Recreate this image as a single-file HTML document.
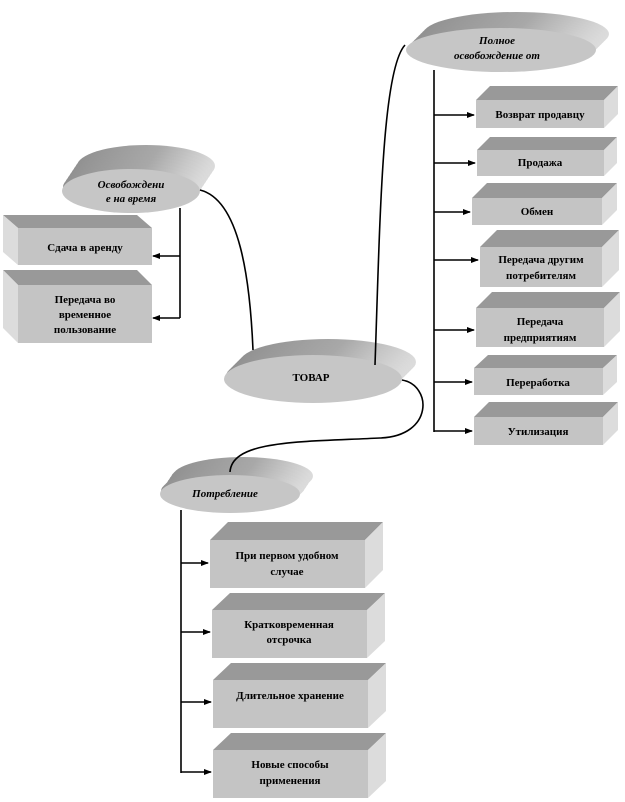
<!DOCTYPE html>
<html><head><meta charset="utf-8"><style>
body{margin:0;background:#fff}
svg{display:block}
text{font-family:"Liberation Serif",serif;font-weight:bold;font-size:11px;fill:#000;text-anchor:middle}
.i{font-style:italic}
</style></head><body>
<svg width="625" height="802" viewBox="0 0 625 802" xmlns="http://www.w3.org/2000/svg">
<defs>
<linearGradient id="rim" x1="0" y1="0" x2="1" y2="0"><stop offset="0" stop-color="#909090"/><stop offset="0.6" stop-color="#a8a8a8"/><stop offset="1" stop-color="#dcdcdc"/></linearGradient>
<marker id="a" markerWidth="8" markerHeight="8" refX="7" refY="4" orient="auto" markerUnits="userSpaceOnUse"><path d="M0,1 L8,4 L0,7 z" fill="#000"/></marker>
</defs>

<g fill="url(#rim)">
<ellipse cx="516" cy="34" rx="93" ry="22"/><ellipse cx="514" cy="36" rx="93" ry="22"/><ellipse cx="512" cy="38" rx="93" ry="22"/><ellipse cx="510" cy="40" rx="93" ry="22"/><ellipse cx="508" cy="42" rx="93" ry="22"/><ellipse cx="506" cy="44" rx="93" ry="22"/><ellipse cx="504" cy="46" rx="93" ry="22"/><ellipse cx="502" cy="48" rx="93" ry="22"/>
<ellipse cx="146" cy="166" rx="69" ry="21"/><ellipse cx="144" cy="169" rx="69" ry="21"/><ellipse cx="142" cy="172" rx="69" ry="21"/><ellipse cx="140" cy="175" rx="69" ry="21"/><ellipse cx="138" cy="178" rx="69" ry="21"/><ellipse cx="136" cy="181" rx="69" ry="21"/><ellipse cx="134" cy="184" rx="69" ry="21"/><ellipse cx="132" cy="187" rx="69" ry="21"/>
<ellipse cx="328" cy="362" rx="88" ry="23"/><ellipse cx="326" cy="364" rx="88" ry="23"/><ellipse cx="324" cy="366" rx="88" ry="23"/><ellipse cx="322" cy="368" rx="88" ry="23"/><ellipse cx="320" cy="370" rx="88" ry="23"/><ellipse cx="318" cy="372" rx="88" ry="23"/><ellipse cx="316" cy="374" rx="88" ry="23"/><ellipse cx="314" cy="376" rx="88" ry="23"/>
<ellipse cx="243" cy="476" rx="70" ry="19"/><ellipse cx="241" cy="478" rx="70" ry="19"/><ellipse cx="239" cy="481" rx="70" ry="19"/><ellipse cx="237" cy="484" rx="70" ry="19"/><ellipse cx="235" cy="487" rx="70" ry="19"/><ellipse cx="233" cy="489" rx="70" ry="19"/><ellipse cx="231" cy="491" rx="70" ry="19"/>
</g>
<g fill="#c6c6c6">
<ellipse cx="501" cy="50" rx="95" ry="22"/>
<ellipse cx="131" cy="191" rx="69" ry="22"/>
<ellipse cx="313" cy="379" rx="89" ry="24"/>
<ellipse cx="230" cy="494" rx="70" ry="19"/>
</g>
<text class="i" x="497" y="44">Полное</text>
<text class="i" x="497" y="59">освобождение от</text>
<text class="i" x="131" y="188">Освобождени</text>
<text class="i" x="131" y="202">е на время</text>
<text x="311" y="381">ТОВАР</text>
<text class="i" x="225" y="497">Потребление</text>

<g fill="none" stroke="#000" stroke-width="1.6">
<path d="M375 365 C 380 220, 382 70, 405 45"/>
<path d="M200 190 C 240 200, 250 280, 253 350"/>
<path d="M402 380 C 432 385, 434 436, 380 438 C 300 442, 232 440, 230 472"/>
<line x1="434" y1="70" x2="434" y2="432"/>
<line x1="180" y1="208" x2="180" y2="318"/>
<line x1="181" y1="510" x2="181" y2="773"/>
<g marker-end="url(#a)">
<line x1="434" y1="115" x2="474" y2="115"/>
<line x1="434" y1="163" x2="475" y2="163"/>
<line x1="434" y1="212" x2="470" y2="212"/>
<line x1="434" y1="260" x2="478" y2="260"/>
<line x1="434" y1="330" x2="474" y2="330"/>
<line x1="434" y1="382" x2="472" y2="382"/>
<line x1="434" y1="431" x2="472" y2="431"/>
<line x1="180" y1="256" x2="153" y2="256"/>
<line x1="180" y1="318" x2="153" y2="318"/>
<line x1="181" y1="563" x2="208" y2="563"/>
<line x1="181" y1="632" x2="210" y2="632"/>
<line x1="181" y1="702" x2="211" y2="702"/>
<line x1="181" y1="772" x2="211" y2="772"/>
</g>
</g>

<g>
<polygon points="476,100 490,86 618,86 604,100" fill="#999"/><polygon points="604,100 618,86 618,114 604,128" fill="#dcdcdc"/><rect x="476" y="100" width="128" height="28" fill="#c4c4c4"/>
<text x="540" y="118">Возврат продавцу</text>

<polygon points="477,150 490,137 617,137 604,150" fill="#999"/><polygon points="604,150 617,137 617,163 604,176" fill="#dcdcdc"/><rect x="477" y="150" width="127" height="26" fill="#c4c4c4"/>
<text x="540" y="166">Продажа</text>

<polygon points="472,198 487,183 617,183 602,198" fill="#999"/><polygon points="602,198 617,183 617,210 602,225" fill="#dcdcdc"/><rect x="472" y="198" width="130" height="27" fill="#c4c4c4"/>
<text x="537" y="215">Обмен</text>

<polygon points="480,247 497,230 619,230 602,247" fill="#999"/><polygon points="602,247 619,230 619,270 602,287" fill="#dcdcdc"/><rect x="480" y="247" width="122" height="40" fill="#c4c4c4"/>
<text x="541" y="263">Передача другим</text>
<text x="541" y="279">потребителям</text>

<polygon points="476,308 492,292 620,292 604,308" fill="#999"/><polygon points="604,308 620,292 620,331 604,347" fill="#dcdcdc"/><rect x="476" y="308" width="128" height="39" fill="#c4c4c4"/>
<text x="540" y="325">Передача</text>
<text x="540" y="341">предприятиям</text>

<polygon points="474,368 488,355 617,355 603,368" fill="#999"/><polygon points="603,368 617,355 617,382 603,395" fill="#dcdcdc"/><rect x="474" y="368" width="129" height="27" fill="#c4c4c4"/>
<text x="538" y="386">Переработка</text>

<polygon points="474,417 489,402 618,402 603,417" fill="#999"/><polygon points="603,417 618,402 618,430 603,445" fill="#dcdcdc"/><rect x="474" y="417" width="129" height="28" fill="#c4c4c4"/>
<text x="538" y="435">Утилизация</text>
</g>

<g>
<polygon points="3,215 137,215 152,228 18,228" fill="#999"/><polygon points="3,215 18,228 18,265 3,252" fill="#dcdcdc"/><rect x="18" y="228" width="134" height="37" fill="#c4c4c4"/>
<text x="85" y="251">Сдача в аренду</text>

<polygon points="3,270 137,270 152,285 18,285" fill="#999"/><polygon points="3,270 18,285 18,343 3,328" fill="#dcdcdc"/><rect x="18" y="285" width="134" height="58" fill="#c4c4c4"/>
<text x="85" y="303">Передача во</text>
<text x="85" y="318">временное</text>
<text x="85" y="333">пользование</text>
</g>

<g>
<polygon points="210,540 228,522 383,522 365,540" fill="#999"/><polygon points="365,540 383,522 383,570 365,588" fill="#dcdcdc"/><rect x="210" y="540" width="155" height="48" fill="#c4c4c4"/>
<text x="287" y="559">При первом удобном</text>
<text x="287" y="575">случае</text>

<polygon points="212,610 230,593 385,593 367,610" fill="#999"/><polygon points="367,610 385,593 385,641 367,658" fill="#dcdcdc"/><rect x="212" y="610" width="155" height="48" fill="#c4c4c4"/>
<text x="289" y="628">Кратковременная</text>
<text x="289" y="643">отсрочка</text>

<polygon points="213,680 231,663 386,663 368,680" fill="#999"/><polygon points="368,680 386,663 386,711 368,728" fill="#dcdcdc"/><rect x="213" y="680" width="155" height="48" fill="#c4c4c4"/>
<text x="290" y="699">Длительное хранение</text>

<polygon points="213,750 231,733 386,733 368,750" fill="#999"/><polygon points="368,750 386,733 386,781 368,798" fill="#dcdcdc"/><rect x="213" y="750" width="155" height="48" fill="#c4c4c4"/>
<text x="290" y="768">Новые способы</text>
<text x="290" y="784">применения</text>
</g>
</svg>
</body></html>
